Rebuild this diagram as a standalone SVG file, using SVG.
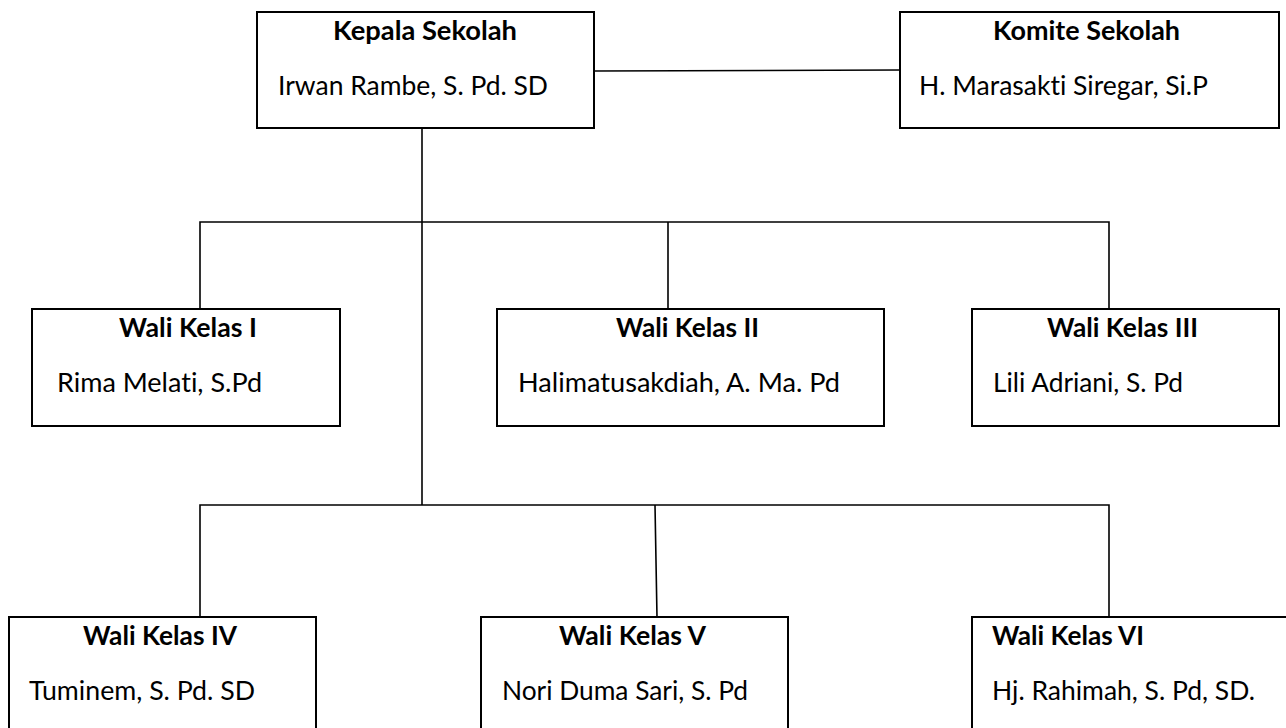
<svg xmlns="http://www.w3.org/2000/svg" width="1286" height="728" viewBox="0 0 1286 728">
<style>
.box{fill:#fff;stroke:#000;stroke-width:2}
.ln{fill:none;stroke:#000;stroke-width:1.6}
.t{font-family:Lato,"Open Sans","Liberation Sans",sans-serif;font-size:26.5px;font-weight:bold;fill:#000;font-variant-ligatures:none;font-feature-settings:"liga" 0,"dlig" 0}
.n{font-family:Lato,"Open Sans","Liberation Sans",sans-serif;font-size:26.5px;fill:#000;font-variant-ligatures:none;font-feature-settings:"liga" 0,"dlig" 0}
</style>
<rect width="1286" height="728" fill="#fff"/>
<g id="connectors">
<path class="ln" d="M594 71 L900 70"/>
<path class="ln" d="M422 128 V505"/>
<path class="ln" d="M200 309 V222 H1109 V309 M668 222 V309"/>
<path class="ln" d="M200 617 V505 H1109 V617 M655 505 L657 617"/>
</g>
<g id="kepala">
<rect class="box" x="257" y="12" width="337" height="116"/>
<text class="t" x="333" y="40" textLength="184" lengthAdjust="spacingAndGlyphs">Kepala Sekolah</text>
<text class="n" x="278" y="95" textLength="270" lengthAdjust="spacingAndGlyphs">Irwan Rambe, S. Pd. SD</text>
</g>
<g id="komite">
<rect class="box" x="900" y="12" width="379" height="116"/>
<text class="t" x="993" y="40" textLength="187" lengthAdjust="spacingAndGlyphs">Komite Sekolah</text>
<text class="n" x="919" y="95" textLength="289" lengthAdjust="spacingAndGlyphs">H. Marasakti Siregar, Si.P</text>
</g>
<g id="wali1">
<rect class="box" x="32" y="309" width="308" height="117"/>
<text class="t" x="119" y="337" textLength="138" lengthAdjust="spacingAndGlyphs">Wali Kelas I</text>
<text class="n" x="57" y="392" textLength="205" lengthAdjust="spacingAndGlyphs">Rima Melati, S.Pd</text>
</g>
<g id="wali2">
<rect class="box" x="497" y="309" width="387" height="117"/>
<text class="t" x="616" y="337" textLength="143" lengthAdjust="spacingAndGlyphs">Wali Kelas II</text>
<text class="n" x="518" y="392" textLength="322" lengthAdjust="spacingAndGlyphs">Halimatusakdiah, A. Ma. Pd</text>
</g>
<g id="wali3">
<rect class="box" x="972" y="309" width="307" height="117"/>
<text class="t" x="1047" y="337" textLength="151" lengthAdjust="spacingAndGlyphs">Wali Kelas III</text>
<text class="n" x="993" y="392" textLength="190" lengthAdjust="spacingAndGlyphs">Lili Adriani, S. Pd</text>
</g>
<g id="wali4">
<rect class="box" x="9" y="617" width="307" height="150"/>
<text class="t" x="83" y="645" textLength="154" lengthAdjust="spacingAndGlyphs">Wali Kelas IV</text>
<text class="n" x="29" y="700" textLength="226" lengthAdjust="spacingAndGlyphs">Tuminem, S. Pd. SD</text>
</g>
<g id="wali5">
<rect class="box" x="481" y="617" width="307" height="150"/>
<text class="t" x="559" y="645" textLength="147" lengthAdjust="spacingAndGlyphs">Wali Kelas V</text>
<text class="n" x="502" y="700" textLength="246" lengthAdjust="spacingAndGlyphs">Nori Duma Sari, S. Pd</text>
</g>
<g id="wali6">
<rect class="box" x="972" y="617" width="340" height="150"/>
<text class="t" x="992" y="645" textLength="152" lengthAdjust="spacingAndGlyphs">Wali Kelas VI</text>
<text class="n" x="992" y="700" textLength="263" lengthAdjust="spacingAndGlyphs">Hj. Rahimah, S. Pd, SD.</text>
</g>
</svg>
